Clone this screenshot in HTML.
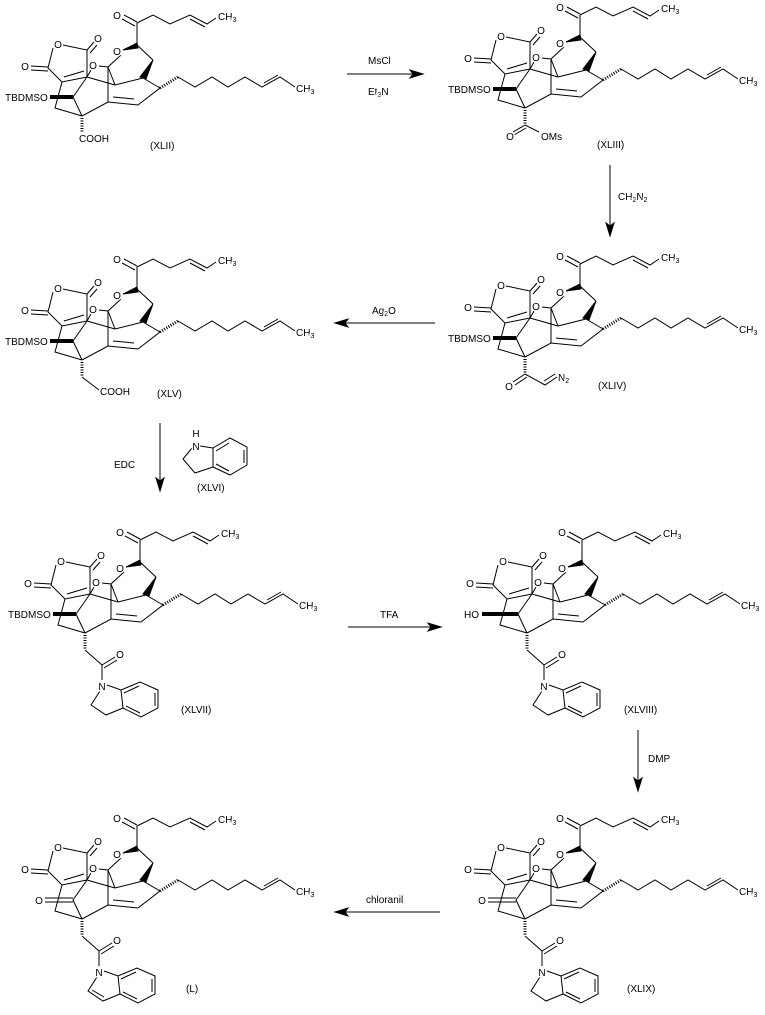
<!DOCTYPE html>
<html><head><meta charset="utf-8"><style>
html,body{margin:0;padding:0;background:#fff;}
svg{display:block;font-family:"Liberation Sans",sans-serif;font-size:10px;}
text{stroke:#fff;stroke-width:3px;paint-order:stroke;fill:#000;}
</style></head><body>
<svg width="765" height="1015" viewBox="0 0 765 1015" xmlns="http://www.w3.org/2000/svg">
<defs>
<g id="core" stroke="#000" stroke-width="1" fill="none">
<path d="M137,23 L153,15 L170,24 L190,15 L207,24 L216,18 M190,19 L205,27"/>
<path d="M124,15 L137,22 M122,19 L135,26"/>
<path d="M137,23 L137,45 L153,60"/>
<polygon points="123,50 137,43 138,48" fill="#000"/>
<polygon points="153,60 140,77 146,79" fill="#000"/>
<path d="M143,78 L115,85 M143,78 L160,88 L138,105 L108,102 L82,116 M113,97 L134,99"/>
<path d="M121,55 L108,67 L108,102 M108,67 L115,85 M99,66 L108,67"/>
<path d="M63,45 L87,50 L87,77 M53,48 L48,68 L62,82 L87,77 M64,77 L84,71"/>
<path d="M87,50 L94,42 M90,53 L97,45 M48,67 L31,66 M48,71 L31,70"/>
<path d="M87,77 L91,70 M87,77 L115,85 M87,77 L73,97 L82,116 M62,82 L55,108 L82,116"/>
<path d="M82,118 L82,133" stroke-width="3" stroke-dasharray="1,1.5"/>
<path d="M160,88 L178,77" stroke-width="3" stroke-dasharray="1,1.5"/>
<path d="M178,77 L195,87 L212,77 L228,87 L245,77 L262,87 L280,77 L295,87 M264,83 L278,75"/>
</g>
<g id="indo" stroke="#000" stroke-width="1" fill="none">
<path d="M82,133 L99,148 M99,148 L112,140 M101,151 L114,143 M99,148 L99,163"/>
<path d="M104,168 L118,173 L137,165 L155,173 L155,191 L138,200 L120,191 L118,173 M121,176 L136,169 M152,176 L152,189 M123,189 L137,196"/>
<path d="M97,174 L88,188 L103,198 L120,191"/>
</g>
</defs>

<!-- XLII -->
<g transform="translate(0,0)">
<use href="#core"/>
<path d="M50,97 L73,97" stroke="#000" stroke-width="4"/>
<text x="117" y="19" text-anchor="middle">O</text><text x="218" y="20">CH<tspan font-size="7" dy="2">3</tspan></text>
<text x="296" y="92">CH<tspan font-size="7" dy="2">3</tspan></text>
<text x="117" y="55" text-anchor="middle">O</text><text x="93" y="69" text-anchor="middle">O</text>
<text x="58" y="48" text-anchor="middle">O</text><text x="98" y="42" text-anchor="middle">O</text>
<text x="25" y="70" text-anchor="middle">O</text>
<text x="5" y="101">TBDMSO</text>
<text x="79" y="142">COOH</text>
</g>
<text x="150" y="149">(XLII)</text>

<!-- XLIII -->
<g transform="translate(443,-8)">
<use href="#core"/>
<path d="M50,97 L73,97" stroke="#000" stroke-width="4"/>
<text x="117" y="19" text-anchor="middle">O</text><text x="218" y="20">CH<tspan font-size="7" dy="2">3</tspan></text>
<text x="296" y="92">CH<tspan font-size="7" dy="2">3</tspan></text>
<text x="117" y="55" text-anchor="middle">O</text><text x="93" y="69" text-anchor="middle">O</text>
<text x="58" y="48" text-anchor="middle">O</text><text x="98" y="42" text-anchor="middle">O</text>
<text x="25" y="70" text-anchor="middle">O</text>
<text x="5" y="101">TBDMSO</text>
<path d="M82,133 L70,140 M83,136 L71,143 M82,133 L96,140" stroke="#000" fill="none"/>
<text x="67" y="148" text-anchor="middle">O</text><text x="98" y="148">OMs</text>
</g>
<text x="597" y="148">(XLIII)</text>

<!-- XLIV -->
<g transform="translate(443,241)">
<use href="#core"/>
<path d="M50,97 L73,97" stroke="#000" stroke-width="4"/>
<text x="117" y="19" text-anchor="middle">O</text><text x="218" y="20">CH<tspan font-size="7" dy="2">3</tspan></text>
<text x="296" y="92">CH<tspan font-size="7" dy="2">3</tspan></text>
<text x="117" y="55" text-anchor="middle">O</text><text x="93" y="69" text-anchor="middle">O</text>
<text x="58" y="48" text-anchor="middle">O</text><text x="98" y="42" text-anchor="middle">O</text>
<text x="25" y="70" text-anchor="middle">O</text>
<text x="5" y="101">TBDMSO</text>
<path d="M82,133 L70,141 M84,136 L72,144 M82,133 L102,144 L114,136 M101,140 L112,133" stroke="#000" fill="none"/>
<text x="66" y="149" text-anchor="middle">O</text><text x="115" y="140">N<tspan font-size="7" dy="2">2</tspan></text>
</g>
<text x="598" y="389">(XLIV)</text>

<!-- XLV -->
<g transform="translate(0,244)">
<use href="#core"/>
<path d="M50,97 L73,97" stroke="#000" stroke-width="4"/>
<text x="117" y="19" text-anchor="middle">O</text><text x="218" y="20">CH<tspan font-size="7" dy="2">3</tspan></text>
<text x="296" y="92">CH<tspan font-size="7" dy="2">3</tspan></text>
<text x="117" y="55" text-anchor="middle">O</text><text x="93" y="69" text-anchor="middle">O</text>
<text x="58" y="48" text-anchor="middle">O</text><text x="98" y="42" text-anchor="middle">O</text>
<text x="25" y="70" text-anchor="middle">O</text>
<text x="5" y="101">TBDMSO</text>
<path d="M82,133 L99,146" stroke="#000"/>
<text x="100" y="151">COOH</text>
</g>
<text x="157" y="397">(XLV)</text>

<!-- XLVI -->
<g stroke="#000" fill="none">
<path d="M200,446 L213,448 L230,438 L247,447 L247,465 L230,475 L213,467 L213,448 M216,451 L229,443 M244,450 L244,463 M216,464 L229,471"/>
<path d="M192,448 L183,459 L195,473 L213,467"/>
</g>
<text x="196" y="437" text-anchor="middle">H</text><text x="196" y="450" text-anchor="middle">N</text>
<text x="197" y="491">(XLVI)</text>

<!-- XLVII -->
<g transform="translate(3,517)">
<use href="#core"/><use href="#indo"/>
<path d="M50,97 L73,97" stroke="#000" stroke-width="4"/>
<text x="117" y="19" text-anchor="middle">O</text><text x="218" y="20">CH<tspan font-size="7" dy="2">3</tspan></text>
<text x="296" y="92">CH<tspan font-size="7" dy="2">3</tspan></text>
<text x="117" y="55" text-anchor="middle">O</text><text x="93" y="69" text-anchor="middle">O</text>
<text x="58" y="48" text-anchor="middle">O</text><text x="98" y="42" text-anchor="middle">O</text>
<text x="25" y="70" text-anchor="middle">O</text>
<text x="5" y="101">TBDMSO</text>
<text x="117" y="141" text-anchor="middle">O</text><text x="99" y="173" text-anchor="middle">N</text>
</g>
<text x="181" y="713">(XLVII)</text>

<!-- XLVIII -->
<g transform="translate(445,517)">
<use href="#core"/><use href="#indo"/>
<path d="M37,97 L73,97" stroke="#000" stroke-width="4"/>
<text x="117" y="19" text-anchor="middle">O</text><text x="218" y="20">CH<tspan font-size="7" dy="2">3</tspan></text>
<text x="296" y="92">CH<tspan font-size="7" dy="2">3</tspan></text>
<text x="117" y="55" text-anchor="middle">O</text><text x="93" y="69" text-anchor="middle">O</text>
<text x="58" y="48" text-anchor="middle">O</text><text x="98" y="42" text-anchor="middle">O</text>
<text x="25" y="70" text-anchor="middle">O</text>
<text x="19" y="101">HO</text>
<text x="117" y="141" text-anchor="middle">O</text><text x="99" y="173" text-anchor="middle">N</text>
</g>
<text x="624" y="713">(XLVIII)</text>

<!-- XLIX -->
<g transform="translate(443,803)">
<use href="#core"/><use href="#indo"/>
<path d="M45,95 L73,95 M45,99 L73,99" stroke="#000"/>
<text x="117" y="19" text-anchor="middle">O</text><text x="218" y="20">CH<tspan font-size="7" dy="2">3</tspan></text>
<text x="296" y="92">CH<tspan font-size="7" dy="2">3</tspan></text>
<text x="117" y="55" text-anchor="middle">O</text><text x="93" y="69" text-anchor="middle">O</text>
<text x="58" y="48" text-anchor="middle">O</text><text x="98" y="42" text-anchor="middle">O</text>
<text x="25" y="70" text-anchor="middle">O</text>
<text x="39" y="101" text-anchor="middle">O</text>
<text x="117" y="141" text-anchor="middle">O</text><text x="99" y="173" text-anchor="middle">N</text>
</g>
<text x="627" y="992">(XLIX)</text>

<!-- L -->
<g transform="translate(0,803)">
<use href="#core"/><use href="#indo"/>
<path d="M45,95 L73,95 M45,99 L73,99 M92,187 L104,194" stroke="#000"/>
<text x="117" y="19" text-anchor="middle">O</text><text x="218" y="20">CH<tspan font-size="7" dy="2">3</tspan></text>
<text x="296" y="92">CH<tspan font-size="7" dy="2">3</tspan></text>
<text x="117" y="55" text-anchor="middle">O</text><text x="93" y="69" text-anchor="middle">O</text>
<text x="58" y="48" text-anchor="middle">O</text><text x="98" y="42" text-anchor="middle">O</text>
<text x="25" y="70" text-anchor="middle">O</text>
<text x="39" y="101" text-anchor="middle">O</text>
<text x="117" y="141" text-anchor="middle">O</text><text x="99" y="173" text-anchor="middle">N</text>
</g>
<text x="186" y="992">(L)</text>

<!-- arrows -->
<g stroke="#000" fill="#000">
<line x1="347" y1="74" x2="418" y2="74"/><polygon points="423,74 410,70 413,74 410,78"/>
<line x1="610" y1="165" x2="610" y2="230"/><polygon points="610,236 606,223 610,226 614,223"/>
<line x1="435" y1="323" x2="341" y2="323"/><polygon points="335,323 348,319 345,323 348,327"/>
<line x1="160" y1="423" x2="160" y2="485"/><polygon points="160,491 156,478 160,481 164,478"/>
<line x1="348" y1="627" x2="435" y2="627"/><polygon points="441,627 428,623 431,627 428,631"/>
<line x1="638" y1="730" x2="638" y2="785"/><polygon points="638,791 634,778 638,781 642,778"/>
<line x1="440" y1="912" x2="341" y2="912"/><polygon points="335,912 348,908 345,912 348,916"/>
</g>
<text x="368" y="64">MsCl</text>
<text x="368" y="95">Et<tspan font-size="7" dy="2">3</tspan><tspan dy="-2">N</tspan></text>
<text x="618" y="200">CH<tspan font-size="7" dy="2">2</tspan><tspan dy="-2">N</tspan><tspan font-size="7" dy="2">2</tspan></text>
<text x="372" y="314">Ag<tspan font-size="7" dy="2">2</tspan><tspan dy="-2">O</tspan></text>
<text x="114" y="468">EDC</text>
<text x="380" y="618">TFA</text>
<text x="648" y="762">DMP</text>
<text x="366" y="903">chloranil</text>
</svg>
</body></html>
